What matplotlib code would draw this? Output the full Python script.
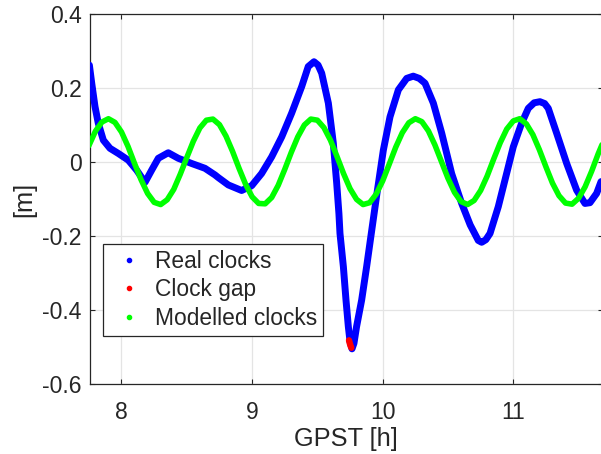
import matplotlib
matplotlib.use("Agg")
import matplotlib.pyplot as plt
from matplotlib.lines import Line2D

plt.rcParams['font.family'] = ['Liberation Sans', 'DejaVu Sans']

# Real clocks
real_t = [7.754, 7.772, 7.797, 7.822, 7.861, 7.912, 7.976, 8.052, 8.116, 8.180,
          8.231, 8.282, 8.358, 8.435, 8.537, 8.639, 8.716, 8.741, 8.818, 8.920,
          8.997, 9.073, 9.150, 9.227, 9.303, 9.380, 9.430, 9.474, 9.505, 9.533, 9.584,
          9.622, 9.648, 9.665, 9.673, 9.699, 9.719, 9.737, 9.750, 9.765, 9.780,
          9.800, 9.839, 9.877, 9.910, 9.954, 10.005, 10.056, 10.120, 10.184, 10.234,
          10.280, 10.324, 10.388, 10.452, 10.528, 10.605, 10.670, 10.732, 10.758, 10.790,
          10.822, 10.885, 10.949, 11.000, 11.064, 11.115, 11.160, 11.204, 11.240, 11.268,
          11.332, 11.409, 11.485, 11.549, 11.587, 11.638, 11.672]
real_v = [0.262, 0.213, 0.150, 0.105, 0.059, 0.037, 0.023, 0.005, -0.022, -0.055,
          -0.022, 0.010, 0.025, 0.010, -0.004, -0.017, -0.035, -0.042, -0.062, -0.077,
          -0.064, -0.031, 0.014, 0.068, 0.132, 0.204, 0.258, 0.271, 0.262, 0.240, 0.159,
          0.051, -0.058, -0.140, -0.193, -0.283, -0.373, -0.445, -0.485, -0.505, -0.490,
          -0.445, -0.373, -0.283, -0.200, -0.090, 0.032, 0.122, 0.195, 0.226, 0.232,
          0.226, 0.213, 0.159, 0.078, -0.031, -0.112, -0.170, -0.212, -0.217, -0.210,
          -0.193, -0.121, -0.031, 0.041, 0.105, 0.145, 0.160, 0.163, 0.158, 0.145,
          0.078, -0.004, -0.076, -0.112, -0.110, -0.085, -0.053]

# Clock gap
gap_t = [9.742, 9.748, 9.754, 9.760]
gap_v = [-0.482, -0.490, -0.497, -0.502]

# Modelled clocks (read every 0.05 h)
model_t = [7.75 + 0.05 * k for k in range(80)]
model_v = [0.044, 0.083, 0.108, 0.117, 0.107, 0.081, 0.042, -0.004, -0.048, -0.085,
           -0.109, -0.115, -0.102, -0.074, -0.033, 0.012, 0.056, 0.092, 0.113, 0.116,
           0.101, 0.070, 0.029, -0.017, -0.060, -0.094, -0.112, -0.113, -0.096, -0.063,
           -0.020, 0.026, 0.068, 0.100, 0.116, 0.113, 0.093, 0.059, 0.015, -0.031,
           -0.072, -0.101, -0.115, -0.110, -0.087, -0.051, -0.006, 0.040, 0.079, 0.106,
           0.117, 0.109, 0.084, 0.046, 0.001, -0.044, -0.082, -0.107, -0.115, -0.104,
           -0.077, -0.038, 0.008, 0.052, 0.089, 0.111, 0.117, 0.103, 0.074, 0.033,
           -0.013, -0.057, -0.091, -0.111, -0.114, -0.098, -0.067, -0.025, 0.022, 0.064]

xticks = [8, 9, 10, 11]
yticks = [-0.6, -0.4, -0.2, 0, 0.2, 0.4]
ytick_labels = ['-0.6', '-0.4', '-0.2', '0', '0.2', '0.4']

W, H = 601, 454
fig = plt.figure(figsize=(W / 100, H / 100), dpi=100)
ax = fig.add_axes([89.5 / W, (H - 384) / H, (603 - 89.5) / W, 370 / H])

txt = '#262626'
ax.plot(real_t, real_v, '-', color='#0000ff', lw=5.0, solid_capstyle='round',
        solid_joinstyle='round', zorder=3)
ax.plot(model_t, model_v, '-', color='#00ff00', lw=4.0, solid_capstyle='round',
        solid_joinstyle='round', zorder=4)
ax.plot(gap_t, gap_v, '-', color='#ff0000', lw=4.6, solid_capstyle='round', zorder=5)

ax.set_xlim(7.755, 11.687)
ax.set_ylim(-0.6, 0.4)
ax.set_xticks(xticks)
ax.set_xticklabels([str(v) for v in xticks])
ax.set_yticks(yticks)
ax.set_yticklabels(ytick_labels)
ax.grid(True, color='#e4e4e4', lw=0.9)
ax.set_axisbelow(True)
ax.tick_params(direction='in', length=3.5, width=0.8, colors=txt, labelsize=16.5,
               top=True, right=True)
ax.tick_params(axis='x', pad=12.0)
ax.tick_params(axis='y', pad=5.5)
for s in ax.spines.values():
    s.set_color('#262626')
    s.set_linewidth(0.9)

ax.set_xlabel('GPST [h]', fontsize=18.3, color=txt, labelpad=2.2)
ax.set_ylabel('[m]', fontsize=18.3, color=txt, labelpad=4.5)

handles = [Line2D([], [], ls='none', marker='o', ms=3, color='#0000ff'),
           Line2D([], [], ls='none', marker='o', ms=3, color='#ff0000'),
           Line2D([], [], ls='none', marker='o', ms=3, color='#00ff00')]
leg = ax.legend(handles, ['Real clocks', 'Clock gap', 'Modelled clocks'],
                loc='upper left', bbox_to_anchor=(0.0269, 0.3776), fontsize=16.4,
                frameon=True, fancybox=False, framealpha=1, edgecolor='#262626',
                handlelength=1.75, handletextpad=0.25, labelspacing=0.23,
                borderpad=0.26, borderaxespad=0)
leg.get_frame().set_linewidth(0.9)
for t in leg.get_texts():
    t.set_color(txt)

fig.savefig('out.png', dpi=100)
